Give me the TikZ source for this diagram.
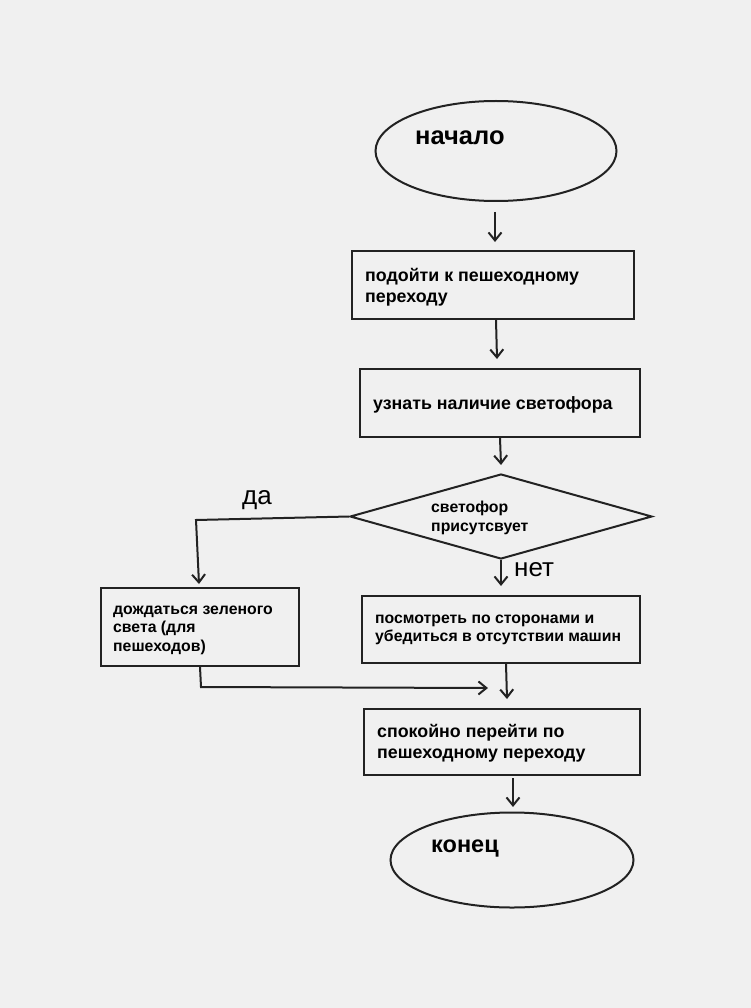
\documentclass[tikz,border=0pt]{standalone}
\usepackage{fontspec}
\setmainfont{Liberation Sans}
\usetikzlibrary{shapes.geometric,arrows.meta}
\definecolor{bg}{HTML}{F0F0F0}
\definecolor{ink}{HTML}{222222}
\begin{document}
\begin{tikzpicture}[x=1pt,y=-1pt,
  shape line/.style={draw=ink,line width=2pt},
  procbox/.style={shape line,rectangle,inner sep=0pt},
  term/.style={shape line,ellipse,inner sep=0pt},
  txt/.style={anchor=west,align=left,inner sep=0pt,text=black,font=\bfseries\fontsize{17.8}{21}\selectfont},
  small/.style={txt,font=\bfseries\fontsize{15.8}{18.5}\selectfont},
  big/.style={anchor=west,inner sep=0pt,text=black,font=\fontsize{26}{30}\selectfont},
  flow/.style={draw=ink,line width=2pt,-{Straight Barb[length=8pt,width=13pt,line width=2pt]}}]
\fill[bg] (0,0) rectangle (751,1008);
\useasboundingbox (0,0) rectangle (751,1008);

% terminals
\node[term,minimum width=241pt,minimum height=100pt] (start) at (496,151) {};
\node[txt,font=\bfseries\fontsize{25.5}{30}\selectfont] (starttxt) at (415,138) {начало};
\node[term,minimum width=243pt,minimum height=95pt] (stop) at (512,860) {};
\node[txt,font=\bfseries\fontsize{23.5}{28}\selectfont] (stoptxt) at (431,849) {конец};

% process boxes
\node[procbox,minimum width=282pt,minimum height=68pt] (b1) at (493,285) {};
\node[txt] (b1txt) at (365,287) {подойти к пешеходному\\переходу};
\node[procbox,minimum width=280pt,minimum height=68pt] (b2) at (500,403) {};
\node[txt] (b2txt) at (373,405) {узнать наличие светофора};
\node[procbox,minimum width=198pt,minimum height=78pt] (wait) at (200,627) {};
\node[small] (waittxt) at (113,630) {дождаться зеленого\\света (для\\пешеходов)};
\node[procbox,minimum width=278pt,minimum height=67pt] (look) at (501,629.5) {};
\node[small] (looktxt) at (375,630) {посмотреть по сторонами и\\убедиться в отсутствии машин};
\node[procbox,minimum width=276pt,minimum height=66pt] (cross) at (502,742) {};
\node[txt] (crosstxt) at (377,743.5) {спокойно перейти по\\пешеходному переходу};

% decision
\node[shape line,diamond,inner sep=0pt,minimum width=302pt,minimum height=85pt] (dec) at (501,516.5) {};
\node[small] (dectxt) at (431,518) {светофор\\присутсвует};

% branch labels
\node[big] (yes) at (242,500) {да};
\node[big] (no) at (514,570) {нет};

% free arrow ends
\coordinate (a1s) at (495,212); \coordinate (a1e) at (495,242);
\coordinate (a2s) at (496,320); \coordinate (a2e) at (497,359);
\coordinate (a3s) at (500,438); \coordinate (a3e) at (501,465);
\coordinate (ybend) at (196,520); \coordinate (ye) at (199,584);
\coordinate (ns) at (501,560); \coordinate (ne) at (501,586);
\coordinate (wbend) at (201,687); \coordinate (we) at (488,688);
\coordinate (ls) at (506,664); \coordinate (le) at (507,699);
\coordinate (cs) at (513,778); \coordinate (ce) at (513,807);

% connectors
\draw[flow] (a1s) -- (a1e);
\draw[flow] (a2s) -- (a2e);
\draw[flow] (a3s) -- (a3e);
\draw[flow] (dec.west) -- (ybend) -- (ye);
\draw[flow] (ns) -- (ne);
\draw[flow] (wait.south) -- (wbend) -- (we);
\draw[flow] (ls) -- (le);
\draw[flow] (cs) -- (ce);
\end{tikzpicture}
\end{document}
